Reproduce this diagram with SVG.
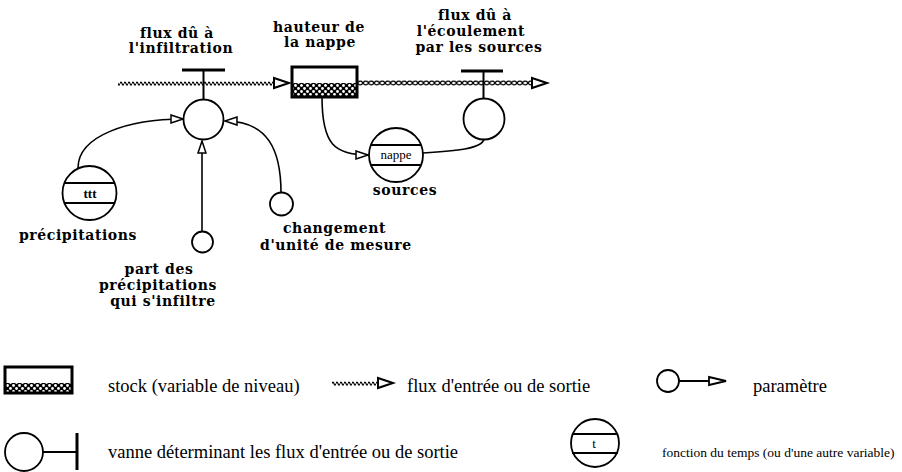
<svg xmlns="http://www.w3.org/2000/svg" xmlns:xlink="http://www.w3.org/1999/xlink" width="902" height="472" viewBox="0 0 902 472">
<style>
.lbl{font-family:"DejaVu Serif","Liberation Serif",serif;font-weight:bold;font-size:14px;letter-spacing:0.6px;fill:#000}
.leg{font-family:"Liberation Serif",serif;font-size:18.5px;fill:#000}
.leg2{font-family:"Liberation Serif",serif;font-size:13.5px;fill:#000}
.inner{font-family:"Liberation Serif",serif;font-size:13px;fill:#000}
.ln{fill:none;stroke:#000;stroke-width:1.6}
.node{fill:#fff;stroke:#000;stroke-width:1.8}
.bar{stroke:#000;stroke-width:3;fill:none}
.stem{stroke:#000;stroke-width:2;fill:none}
.box{fill:none;stroke:#000;stroke-width:3}
</style>
<defs>
<pattern id="wave" patternUnits="userSpaceOnUse" x="0" y="80" width="4" height="6">
<path d="M0,3.6 Q1,0.6 2,3.6 T4,3.6" fill="none" stroke="#000" stroke-width="1.3"/>
</pattern>
<pattern id="chain" patternUnits="userSpaceOnUse" x="0" y="79" width="5.5" height="8">
<ellipse cx="2.75" cy="4" rx="2.3" ry="1.9" fill="#fff" stroke="#000" stroke-width="1.2"/>
</pattern>
<pattern id="check" patternUnits="userSpaceOnUse" x="0" y="0" width="6" height="6">
<rect width="6" height="6" fill="#000"/>
<circle cx="1.5" cy="1.5" r="1.4" fill="#fff"/>
<circle cx="4.5" cy="4.5" r="1.4" fill="#fff"/>
</pattern>
<path id="flowArrow" d="M0,-5 L15,0 L0,5 Z" fill="#fff" stroke="#000" stroke-width="2"/>
<marker id="info" markerUnits="userSpaceOnUse" viewBox="0 0 14 10" refX="13" refY="5" markerWidth="14" markerHeight="10" orient="auto">
<path d="M1,1 L13,5 L1,9 Z" fill="#fff" stroke="#000" stroke-width="1.5"/>
</marker>
</defs>

<g id="connectors">
<rect x="118" y="80" width="156" height="6" fill="url(#wave)"/>
<use xlink:href="#flowArrow" x="274" y="83"/>
<rect x="358" y="79" width="176" height="8" fill="url(#chain)"/>
<use xlink:href="#flowArrow" x="532" y="83"/>
<path class="ln" d="M78,168 C78,135 130,119 183,119" marker-end="url(#info)"/>
<path class="ln" d="M202,231 L202,141" marker-end="url(#info)"/>
<path class="ln" d="M281,193 C281,150 268,121 225,121" marker-end="url(#info)"/>
<path class="ln" d="M322,97 C322,145 335,155 368,155" marker-end="url(#info)"/>
<path class="ln" d="M423,153 C455,151 482,149 484,139"/>
</g>

<g id="valve-infiltration">
<line class="bar" x1="182" y1="70" x2="225" y2="70"/>
<line class="stem" x1="203.5" y1="70" x2="203.5" y2="99"/>
<circle class="node" cx="203.5" cy="119.5" r="20"/>
<text class="lbl" x="177" y="38" text-anchor="middle">flux dû à</text>
<text class="lbl" x="181" y="53" text-anchor="middle">l'infiltration</text>
</g>

<g id="stock-nappe">
<rect x="292" y="83" width="65" height="14" fill="url(#check)"/>
<rect class="box" x="292" y="67" width="65" height="30"/>
<text class="lbl" x="319" y="32" text-anchor="middle">hauteur de</text>
<text class="lbl" x="320" y="47" text-anchor="middle">la nappe</text>
</g>

<g id="valve-sources">
<line class="bar" x1="461" y1="71" x2="503" y2="71"/>
<line class="stem" x1="483.5" y1="71" x2="483.5" y2="98"/>
<circle class="node" cx="484" cy="119" r="20.5"/>
<text class="lbl" x="475" y="20" text-anchor="middle">flux dû à</text>
<text class="lbl" x="471" y="36" text-anchor="middle">l'écoulement</text>
<text class="lbl" x="479" y="52" text-anchor="middle">par les sources</text>
</g>

<g id="precipitations">
<circle class="node" cx="89.5" cy="193" r="27"/>
<line class="stem" x1="64" y1="183" x2="115" y2="183"/>
<line class="stem" x1="64" y1="203" x2="115" y2="203"/>
<text class="inner" x="90" y="197.5" text-anchor="middle" font-weight="bold">ttt</text>
<text class="lbl" x="78" y="240" text-anchor="middle">précipitations</text>
</g>

<g id="part-infiltre">
<circle class="node" cx="202.5" cy="242" r="10.5"/>
<text class="lbl" x="159" y="274" text-anchor="middle">part des</text>
<text class="lbl" x="158" y="290" text-anchor="middle">précipitations</text>
<text class="lbl" x="163" y="306" text-anchor="middle">qui s'infiltre</text>
</g>

<g id="changement-unite">
<circle class="node" cx="281.5" cy="204" r="11.5"/>
<text class="lbl" x="283" y="233">changement</text>
<text class="lbl" x="260" y="250">d'unité de mesure</text>
</g>

<g id="sources">
<circle class="node" cx="396" cy="155" r="27"/>
<line class="stem" x1="371" y1="145" x2="421" y2="145"/>
<line class="stem" x1="371" y1="165" x2="421" y2="165"/>
<text class="inner" x="396" y="159" text-anchor="middle">nappe</text>
<text class="lbl" x="405" y="195" text-anchor="middle">sources</text>
</g>

<g id="legend">
<rect x="5" y="383" width="67" height="9" fill="url(#check)"/>
<rect class="box" x="5" y="367" width="67" height="26"/>
<text class="leg" x="108" y="392">stock (variable de niveau)</text>
<rect x="332" y="380" width="47" height="6" fill="url(#wave)"/>
<use xlink:href="#flowArrow" x="378" y="383"/>
<text class="leg" x="407" y="392">flux d'entrée ou de sortie</text>
<circle class="node" cx="668" cy="381" r="11"/>
<line class="stem" x1="679" y1="381" x2="709" y2="381"/>
<path d="M709,377 L726,381 L709,385 Z" fill="#fff" stroke="#000" stroke-width="1.8"/>
<text class="leg" x="753" y="392">paramètre</text>
<circle class="node" cx="24" cy="452" r="19"/>
<line class="stem" x1="43" y1="452" x2="77" y2="452"/>
<line class="bar" x1="77" y1="433" x2="77" y2="470"/>
<text class="leg" x="108" y="458">vanne déterminant les flux d'entrée ou de sortie</text>
<circle class="node" cx="595" cy="443" r="24"/>
<line class="stem" x1="572" y1="434" x2="618" y2="434"/>
<line class="stem" x1="572" y1="453" x2="618" y2="453"/>
<text class="inner" x="594" y="448" text-anchor="middle">t</text>
<text class="leg2" x="662" y="457">fonction du temps (ou d'une autre variable)</text>
</g>
</svg>
